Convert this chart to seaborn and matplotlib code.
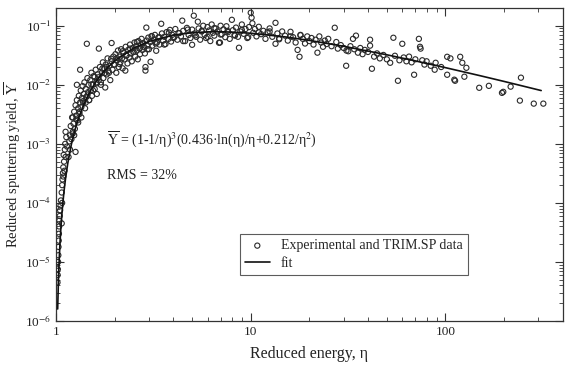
import numpy as np
import pandas as pd
import matplotlib
matplotlib.use("Agg")
import matplotlib.pyplot as plt
import seaborn as sns

# reduced energy / reduced yield (steep part near threshold)
eta_a = [1.018, 1.02, 1.022, 1.025, 1.028, 1.03, 1.033, 1.035, 1.038, 1.04,
         1.045, 1.05, 1.055, 1.06, 1.07, 1.075, 1.07, 1.075, 1.08, 1.085,
         1.09, 1.09, 1.1, 1.095, 1.105, 1.11, 1.12, 1.115, 1.13, 1.12, 1.14]
y_a = [4.5e-6, 6e-6, 7.5e-6, 1.0e-5, 1.3e-5, 1.8e-5, 2.3e-5, 3.0e-5, 4.0e-5, 5.0e-5,
       6.0e-5, 7.5e-5, 9e-5, 1.1e-4, 4.5e-5, 1.0e-4, 1.5e-4, 2.0e-4, 2.5e-4, 3.2e-4,
       2.8e-4, 4.0e-4, 5.0e-4, 6.5e-4, 3.5e-4, 8e-4, 6e-4, 1.0e-3, 1.3e-3, 1.6e-3, 9e-4]

# rising part, eta 1.15 - 2
eta_b = [1.16, 1.17, 1.18, 1.18, 1.19, 1.2, 1.21, 1.22, 1.22, 1.23, 1.24, 1.25,
         1.26, 1.26, 1.27, 1.28, 1.28, 1.29, 1.3, 1.31, 1.32, 1.33, 1.33, 1.34,
         1.35, 1.36, 1.37, 1.38, 1.39, 1.4, 1.41, 1.42, 1.43, 1.44, 1.45, 1.46,
         1.47, 1.48, 1.5, 1.51, 1.52, 1.53, 1.55, 1.56, 1.58, 1.6, 1.61, 1.62,
         1.64, 1.66, 1.66, 1.68, 1.7, 1.72, 1.74, 1.75, 1.77, 1.79, 1.8, 1.82,
         1.84, 1.86, 1.88, 1.9, 1.93, 1.93, 1.95, 1.97, 2.0]
y_b = [6e-4, 1.1e-3, 8e-4, 1.4e-3, 2.0e-3, 1.2e-3, 2.8e-3, 1.6e-3, 2.8e-3, 2.2e-3, 3.5e-3, 1.8e-3,
       7.3e-4, 4.5e-3, 3.0e-3, 1.0e-2, 5.5e-3, 2.5e-3, 4.0e-3, 6.5e-3, 3.5e-3, 1.8e-2, 5.0e-3, 8.0e-3,
       4.2e-3, 6.0e-3, 9.5e-3, 5.0e-3, 7.0e-3, 1.1e-2, 4.0e-3, 8.5e-3, 6.2e-3, 4.95e-2, 1.3e-2, 7.5e-3,
       1.0e-2, 5.5e-3, 1.2e-2, 8.0e-3, 1.6e-2, 6.5e-3, 1.0e-2, 1.4e-2, 8.5e-3, 1.8e-2, 1.1e-2, 7.0e-3,
       1.5e-2, 4.1e-2, 1.2e-2, 2.0e-2, 1.0e-2, 1.6e-2, 2.4e-2, 1.3e-2, 1.9e-2, 9.0e-3, 2.2e-2, 1.5e-2,
       2.8e-2, 1.7e-2, 2.1e-2, 1.2e-2, 5.1e-2, 2.5e-2, 1.8e-2, 3.0e-2, 2.2e-2]

# knee, eta 2 - 5
eta_c = [2.02, 2.04, 2.06, 2.08, 2.1, 2.12, 2.14, 2.16, 2.18, 2.2, 2.22, 2.25,
         2.27, 2.28, 2.3, 2.33, 2.35, 2.38, 2.4, 2.42, 2.45, 2.48, 2.5, 2.53,
         2.55, 2.58, 2.6, 2.63, 2.65, 2.68, 2.7, 2.73, 2.75, 2.78, 2.8, 2.83,
         2.86, 2.88, 2.88, 2.91, 2.92, 2.95, 2.98, 3.0, 3.06, 3.05, 3.1, 3.12,
         3.18, 3.22, 3.27, 3.3, 3.35, 3.4, 3.47, 3.5, 3.55, 3.6, 3.65, 3.7,
         3.78, 3.85, 3.9, 3.95, 4.05, 4.1, 4.2, 4.3, 4.38, 4.45, 4.5, 4.6,
         4.7, 4.8, 4.9, 5.0, 5.0]
y_c = [3.3e-2, 1.6e-2, 2.6e-2, 3.8e-2, 2.0e-2, 3.0e-2, 2.4e-2, 4.0e-2, 2.8e-2, 1.9e-2, 3.5e-2, 2.7e-2,
       1.74e-2, 4.4e-2, 3.1e-2, 2.3e-2, 3.9e-2, 2.9e-2, 4.8e-2, 3.4e-2, 2.5e-2, 4.2e-2, 3.6e-2, 5.2e-2,
       3.0e-2, 4.5e-2, 3.8e-2, 2.7e-2, 5.5e-2, 4.1e-2, 3.3e-2, 4.8e-2, 6.0e-2, 3.9e-2, 5.0e-2, 4.4e-2,
       3.4e-2, 2.0e-2, 1.74e-2, 9.3e-2, 5.6e-2, 4.6e-2, 6.3e-2, 4.0e-2, 2.45e-2, 5.3e-2, 6.6e-2, 4.6e-2,
       5.8e-2, 7.0e-2, 3.77e-2, 5.2e-2, 6.3e-2, 4.8e-2, 1.08e-1, 7.4e-2, 5.6e-2, 6.5e-2, 4.9e-2, 7.8e-2,
       6.0e-2, 8.5e-2, 5.4e-2, 7.0e-2, 6.4e-2, 8.8e-2, 5.8e-2, 7.5e-2, 6.6e-2, 1.22e-1, 8.2e-2, 5.5e-2,
       9.2e-2, 7.0e-2, 6.2e-2, 4.76e-2, 8.6e-2]

# maximum, eta 5 - 20
eta_d = [5.1, 5.15, 5.25, 5.35, 5.4, 5.5, 5.6, 5.7, 5.8, 5.9, 6.0, 6.1, 6.2, 6.3,
         6.4, 6.5, 6.6, 6.75, 6.87, 6.95, 7.0, 7.1, 7.25, 7.4, 7.5, 7.65, 7.8,
         8.0, 8.1, 8.25, 8.4, 8.6, 8.7, 8.85, 9.0, 9.2, 9.4, 9.6, 9.8, 10.0,
         10.1, 10.2, 10.3, 10.5, 10.7, 11.0, 11.3, 11.6, 11.9, 12.2, 12.5, 12.9,
         13.4, 13.4, 13.7, 14.0, 14.5, 15.0, 15.5, 16.0, 16.5, 17.0, 17.4, 17.8,
         18.0, 18.5, 19.0, 19.5, 20.0]
y_d = [1.48e-1, 7.4e-2, 6.5e-2, 1.17e-1, 9.0e-2, 5.8e-2, 8.0e-2, 1.0e-1, 7.0e-2, 6.2e-2, 9.5e-2, 8.3e-2, 5.5e-2, 1.05e-1,
       7.6e-2, 6.8e-2, 9.0e-2, 8.0e-2, 5.15e-2, 5.2e-2, 1.0e-1, 7.2e-2, 8.7e-2, 6.4e-2, 9.8e-2, 7.8e-2, 6.0e-2,
       1.26e-1, 8.4e-2, 7.0e-2, 9.3e-2, 6.5e-2, 4.24e-2, 8.0e-2, 1.05e-1, 7.3e-2, 8.8e-2, 6.2e-2, 9.5e-2, 1.66e-1,
       1.37e-1, 1.1e-1, 7.6e-2, 8.8e-2, 6.6e-2, 9.6e-2, 7.2e-2, 8.2e-2, 6.0e-2, 7.8e-2, 9.0e-2, 6.5e-2,
       4.95e-2, 1.12e-1, 7.4e-2, 6.1e-2, 8.0e-2, 6.8e-2, 5.6e-2, 7.9e-2, 6.4e-2, 5.2e-2, 3.9e-2, 2.98e-2,
       7.0e-2, 6.0e-2, 5.0e-2, 6.6e-2, 5.5e-2]

# eta 20 - 60
eta_e = [20.5, 21.0, 21.5, 22.0, 22.5, 23.0, 23.5, 24.0, 24.5, 25.0, 26.0, 27.0,
         27.5, 28.0, 29.0, 30.0, 30.9, 31.0, 31.7, 32.5, 33.5, 34.0, 34.7, 35.5,
         36.5, 37.5, 38.5, 40.0, 41.0, 41.0, 41.9, 43.0, 44.5, 46.0, 48.0, 50.0,
         52.0, 54.0, 55.0, 57.0, 58.0, 60.0]
y_e = [6.2e-2, 4.8e-2, 5.8e-2, 3.5e-2, 6.6e-2, 5.2e-2, 4.4e-2, 5.6e-2, 4.9e-2, 6.0e-2, 4.5e-2, 9.25e-2,
       5.3e-2, 4.1e-2, 4.7e-2, 4.2e-2, 2.1e-2, 3.8e-2, 3.7e-2, 4.5e-2, 6.0e-2, 4.0e-2, 6.8e-2, 3.5e-2,
       4.2e-2, 3.3e-2, 3.9e-2, 3.6e-2, 5.8e-2, 4.6e-2, 1.87e-2, 3.0e-2, 3.4e-2, 2.8e-2, 3.2e-2, 2.7e-2,
       2.36e-2, 6.26e-2, 3.1e-2, 1.17e-2, 2.6e-2, 4.95e-2]

# high energy tail
eta_f = [61, 63, 65, 67, 69, 70, 73, 74, 74.5, 76, 78, 80, 84, 88, 89, 95, 102,
         102, 106, 111, 112, 119, 122, 125, 128, 149, 167, 195, 198, 216, 244,
         241, 284, 318]
y_f = [2.9e-2, 2.5e-2, 3.0e-2, 2.4e-2, 1.48e-2, 2.7e-2, 6.0e-2, 4.4e-2, 4.1e-2, 2.6e-2, 2.2e-2, 2.5e-2,
       2.1e-2, 1.8e-2, 2.36e-2, 2.0e-2, 2.98e-2, 1.48e-2, 2.8e-2, 1.22e-2, 1.17e-2, 2.98e-2, 2.36e-2,
       1.37e-2, 1.94e-2, 8.9e-3, 9.6e-3, 7.3e-3, 7.6e-3, 9.3e-3, 1.32e-2, 5.4e-3, 4.8e-3, 4.8e-3]

# extra points in the dense band along the curve
eta_g = [1.22, 1.24, 1.27, 1.3, 1.32, 1.35, 1.38, 1.42, 1.45, 1.48,
         1.52, 1.55, 1.58, 1.62, 1.65, 1.7, 1.73, 1.78, 1.82, 1.87,
         1.92, 1.98, 2.05, 2.12, 2.2, 2.3, 2.4, 2.5, 2.6, 2.7,
         2.8, 2.95, 3.1, 3.25, 3.4, 3.6, 3.8, 4.0, 4.25, 4.5,
         4.75, 5.2, 5.6, 6.0, 6.5, 7.0, 7.6, 8.3, 9.0, 9.7,
         11, 12.5, 14, 16, 18]
y_g = [1.5e-3, 1.4e-3, 2.6e-3, 2.3e-3, 3.2e-3, 2.8e-3, 5.3e-3, 5.0e-3, 6.6e-3, 5.5e-3,
       1.02e-2, 8.0e-3, 1.36e-2, 1.06e-2, 1.34e-2, 1.1e-2, 1.88e-2, 1.58e-2, 2.0e-2, 1.6e-2,
       2.76e-2, 2.2e-2, 2.84e-2, 2.25e-2, 3.7e-2, 3.15e-2, 4.1e-2, 3.6e-2, 5.3e-2, 4.2e-2,
       5.1e-2, 4.0e-2, 6.7e-2, 5.0e-2, 6.4e-2, 4.8e-2, 7.7e-2, 6.2e-2, 7.5e-2, 5.5e-2,
       8.6e-2, 6.9e-2, 8.2e-2, 6.5e-2, 9.1e-2, 7.1e-2, 8.2e-2, 6.8e-2, 8.5e-2, 6.4e-2,
       7.7e-2, 8.0e-2, 5.9e-2, 6.6e-2, 6.9e-2]

# fit curve, points along the drawn line
fit_eta = [1.02, 1.03, 1.04, 1.05, 1.06, 1.07, 1.08, 1.1, 1.12, 1.15, 1.2, 1.25, 1.3,
           1.4, 1.5, 1.6, 1.7, 1.8, 2, 2.5, 3, 4, 5, 6, 7, 8, 10, 15, 20, 30,
           50, 70, 100, 150, 200, 310]
fit_y = [1.6e-6, 5.25e-6, 1.2e-5, 2.3e-5, 3.86e-5, 5.96e-5, 8.65e-5, 1.6e-4, 2.62e-4, 4.73e-4,
         9.88e-4, 1.71e-3, 2.62e-3, 4.97e-3, 7.86e-3, 1.11e-2, 1.46e-2, 1.82e-2, 2.55e-2, 4.18e-2,
         5.43e-2, 6.93e-2, 7.62e-2, 7.88e-2, 7.9e-2, 7.81e-2, 7.47e-2, 6.48e-2, 5.65e-2, 4.49e-2,
         3.22e-2, 2.54e-2, 1.95e-2, 1.43e-2, 1.14e-2, 7.99e-3]

data = pd.DataFrame({
    "eta": eta_a + eta_b + eta_c + eta_d + eta_e + eta_f + eta_g,
    "Y": y_a + y_b + y_c + y_d + y_e + y_f + y_g,
})
fit = pd.DataFrame({"eta": fit_eta, "Y": fit_y})

sns.set_theme(style="ticks")
plt.rcParams["font.family"] = ["Liberation Serif", "DejaVu Serif"]
plt.rcParams["mathtext.fontset"] = "stix"

fig = plt.figure(figsize=(5.69, 3.67), dpi=100)
ax = fig.add_axes([0.0984, 0.1253, 0.8906, 0.853])

sns.scatterplot(data=data, x="eta", y="Y", ax=ax, marker="o", s=14,
                facecolor="none", edgecolor="#2a2a2a", linewidth=0.8,
                label="Experimental and TRIM.SP data", zorder=2)
sns.lineplot(data=fit, x="eta", y="Y", ax=ax, color="#111111", linewidth=1.2,
             sort=False, estimator=None, label="fit", zorder=3)

ax.set_xscale("log")
ax.set_yscale("log")
ax.set_xlim(1, 400)
ax.set_ylim(1e-6, 0.2)
ax.set_xticks([1, 10, 100])
ax.set_xticklabels(["1", "10", "100"])
ax.set_yticks([1e-6, 1e-5, 1e-4, 1e-3, 1e-2, 1e-1])
ax.set_yticklabels([r"10$^{-6}$", r"10$^{-5}$", r"10$^{-4}$", r"10$^{-3}$",
                    r"10$^{-2}$", r"10$^{-1}$"])
ax.tick_params(which="both", direction="in", top=True, right=True,
               colors="#333333", labelcolor="#222222", labelsize=9.5)
ax.tick_params(which="major", length=6, width=0.8)
ax.tick_params(which="minor", length=3, width=0.6)
for s in ax.spines.values():
    s.set_color("#333333")
    s.set_linewidth(0.9)

ax.set_xlabel("Reduced energy, η", fontsize=11.5, color="#222222", labelpad=6)
ax.set_ylabel(r"Reduced sputtering yield, $\overline{\mathrm{Y}}$", fontsize=10.5,
              color="#222222")
ax.yaxis.set_label_coords(-0.066, 0.5)

ax.text(0.1, 0.565, r"$\overline{\mathrm{Y}}$ = (1-1/η)$^3$(0.436·ln(η)/η+0.212/η$^2$)",
        transform=ax.transAxes, fontsize=10, color="#222222")
ax.text(0.1, 0.455, "RMS = 32%", transform=ax.transAxes, fontsize=10, color="#222222")

leg = ax.legend(loc="lower left", bbox_to_anchor=(0.363, 0.147), borderaxespad=0,
                fontsize=10, frameon=True, fancybox=False, handlelength=1.8,
                borderpad=0.35, labelspacing=0.35)
leg.get_frame().set_edgecolor("#333333")
leg.get_frame().set_linewidth(0.8)

fig.savefig("out.png", dpi=100)
